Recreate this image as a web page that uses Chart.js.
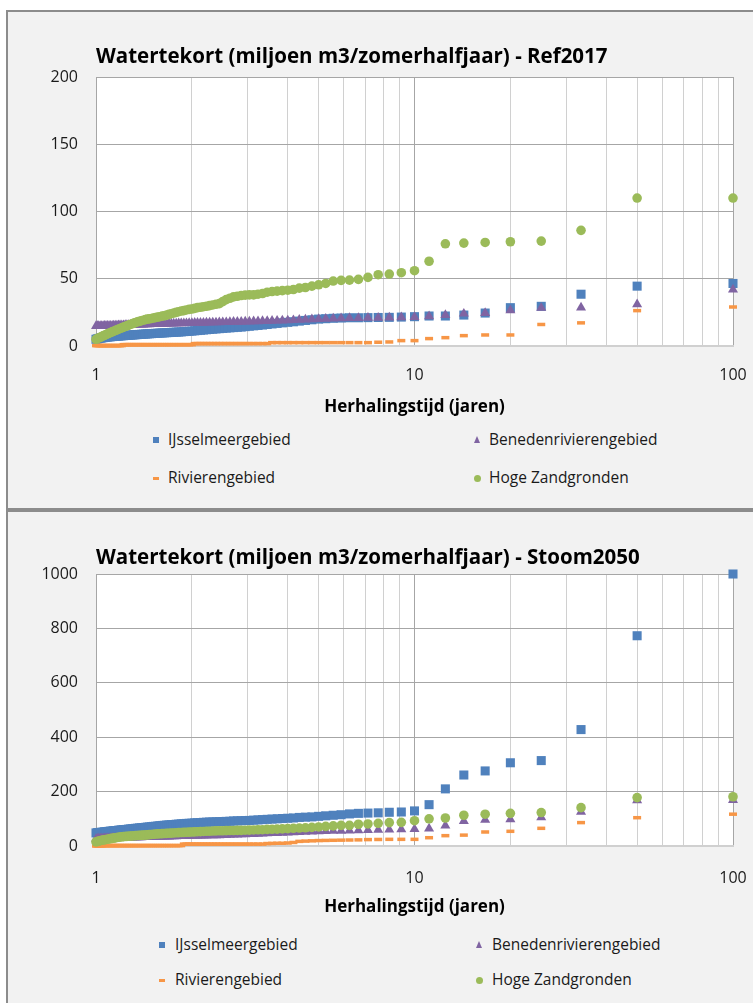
<!DOCTYPE html>
<html><head><meta charset="utf-8">
<script src="https://cdn.jsdelivr.net/npm/chart.js@4.4.1/dist/chart.umd.min.js"></script>
<style>
html,body{margin:0;padding:0;background:#fff;width:753px;height:1003px;overflow:hidden;font-family:"Open Sans",sans-serif;}
.panel{position:absolute;background:#f2f2f2;border:2px solid #8c8c8c;overflow:hidden;}
#p1{left:6px;top:10px;width:800px;height:496px;}
#p2{left:6px;top:510px;width:800px;height:500px;}
.cw{position:absolute;left:0;top:0;width:790px;}
.leg{position:absolute;font-size:15.5px;color:#1a1a1a;white-space:nowrap;line-height:20px;}
.mk{position:absolute;}
</style>
</head><body>
<div class="panel" id="p1"><div class="cw" id="w1" style="height:409px"><canvas id="c1"></canvas></div></div>
<div class="panel" id="p2"><div class="cw" id="w2" style="height:409px"><canvas id="c2"></canvas></div></div>
<script>
// Return period (years), rank 1..100
const herhalingstijd = [100,50,33.333,25,20,16.667,14.286,12.5,11.111,10,
9.091,8.333,7.692,7.143,6.667,6.25,5.882,5.556,5.263,5,
4.762,4.545,4.348,4.167,4,3.846,3.704,3.571,3.448,3.333,
3.226,3.125,3.030,2.941,2.857,2.778,2.703,2.632,2.564,2.5,
2.439,2.381,2.326,2.273,2.222,2.174,2.128,2.083,2.041,2,
1.961,1.923,1.887,1.852,1.818,1.786,1.754,1.724,1.695,1.667,
1.639,1.613,1.587,1.563,1.538,1.515,1.493,1.471,1.449,1.429,
1.408,1.389,1.370,1.351,1.333,1.316,1.299,1.282,1.266,1.25,
1.235,1.220,1.205,1.190,1.176,1.163,1.149,1.136,1.124,1.111,
1.099,1.087,1.075,1.064,1.053,1.042,1.031,1.020,1.010,1];

const seriesNames = ['IJsselmeergebied','Benedenrivierengebied','Rivierengebied','Hoge Zandgronden'];
const seriesColors = ['#4f81bd','#8064a2','#f79646','#9bbb59'];

// Ref2017
const ref_ijssel = [46.5,44.5,38.5,29.5,28.5,24.5,23,22.3,22.3,21.8,
21.5,21.3,21.2,21.1,21,21,20.8,20.6,20.3,20,
19.5,19,18.5,18,17.6,17.2,16.8,16.4,16,15.6,
15.3,15,14.7,14.4,14.1,13.9,13.7,13.5,13.3,13.1,
12.9,12.7,12.5,12.3,12.1,11.9,11.7,11.5,11.3,11.1,
11,10.8,10.7,10.5,10.4,10.3,10.2,10.1,10,9.9,
9.8,9.7,9.6,9.5,9.4,9.3,9.2,9.1,9,8.9,
8.8,8.7,8.6,8.5,8.4,8.3,8.2,8.1,8,7.9,
7.8,7.7,7.6,7.5,7.4,7.3,7.2,7.1,7,6.9,
6.8,6.7,6.5,6.4,6.2,6,5.8,5.6,5.3,5];
const ref_beneden = [42,31,28.5,28.3,26.5,24.5,24,23,22,21.5,
21.3,21.2,21,21,20.8,20.7,20.6,20.4,20.2,20,
19.8,19.6,19.4,19.2,19,18.9,18.8,18.7,18.6,18.5,
18.4,18.3,18.2,18.1,18,17.9,17.9,17.8,17.7,17.7,
17.6,17.5,17.5,17.4,17.4,17.3,17.3,17.2,17.2,17.1,
17,16.95,16.9,16.85,16.8,16.75,16.7,16.65,16.6,16.55,
16.5,16.45,16.4,16.35,16.3,16.25,16.2,16.15,16.1,16.05,
16,15.95,15.9,15.85,15.8,15.75,15.7,15.65,15.6,15.55,
15.5,15.45,15.4,15.35,15.3,15.25,15.2,15.15,15.1,15.05,
15,15,14.95,14.95,14.9,14.9,14.85,14.85,14.8,14.8];
const ref_rivieren = [29,26.3,17.2,16,8.2,8.2,7.7,6.2,5.5,4,
4,3,2.8,2.5,2.5,2.5,2.5,2.5,2.5,2.5,
2.5,2.5,2.5,2.5,2.5,2.5,2.5,2.5,1.8,1.8,
1.8,1.8,1.8,1.8,1.8,1.8,1.8,1.8,1.8,1.8,
1.8,1.8,1.8,1.8,1.8,1.8,1.8,1.8,1.8,1,
1,1,1,1,1,1,1,1,1,1,
1,1,1,1,1,1,1,1,1,1,
1,1,1,1,1,1,1,1,1,1,
1,1,0.3,0.3,0.3,0.3,0.3,0.3,0.3,0.3,
0.3,0.3,0.3,0.3,0.3,0.3,0.3,0.3,0.3,0.3];
const ref_hoge = [110,110,86,78,77.5,77,76.5,76,63,56,
54.5,53.5,53,51,49.5,49,48.8,48.3,46.5,45.5,
44.5,43.5,43,42,41.5,41.2,40.8,40.5,40,39,
38.5,38,38,37.8,37.5,37,36.5,35.5,34.5,33,
31.5,31,30.5,30,29.5,29.2,28.8,28.5,28,27.5,
27.2,26.8,26.3,26,25.5,25,24.5,24,23.5,23,
22.5,22.2,21.8,21.5,21.2,20.8,20.5,20.2,20,19.6,
19.2,18.8,18.4,18,17.5,17,16.5,16,15.5,15,
14.5,14,13.5,13,12.5,12,11.5,11,10.5,10,
9.5,9,8.5,8,7.5,7,6.5,6,5.5,5];

// Stoom2050
const st_ijssel = [1000,773,428,314,306,276,261,210,152,129,
125,124,122,121,120,118,115,113,111,109,
107,106,105,103,102,101,100,99,98,97,
96,95,94,93.5,93,92.5,92,91,90.5,90,
89.5,89,88.5,88,87.5,87,86,85.5,85,84,
83.5,83,82,81.5,80.5,80,79,78.5,77.5,77,
76,75.5,74.5,73.5,72.5,72,71,70,69.5,68.5,
68,67,66.5,65.5,65,64,63.5,62.5,62,61,
60.5,60,59.5,58.5,58,57,56.5,56,55,54.5,
54,53,52.5,52,51,50.5,50,49.5,49,48];
const st_beneden = [169,168,126,105,98,96,92,75,64,62,
61,60,59.5,58,57.5,57,56,55.6,55,54,
53,52,51,50,49,48,47.5,47,46.5,46,
44.5,44,43.5,43,42.5,42,41.5,41,40.5,40,
39.6,39.3,39,38.7,38.4,38.1,37.8,37.5,37.2,37,
36.8,36.6,36.4,36.2,36,35.7,35.4,35.1,34.8,34.6,
34.4,34.2,34,33.8,33.6,33.4,33.2,33,32.8,32.6,
32.4,32.2,32,31.8,31.6,31.4,31.2,31,30.8,30.6,
30.4,30.2,30,29.8,29.6,29.4,29.2,29,28.8,28.6,
28.4,28.2,28,27.8,27.6,27.4,27.2,27,26.5,26];
const st_rivieren = [117,104,86,65,54,51.5,40,38,30.5,24.5,
24.5,24.5,24,23.5,22.5,22,21.5,21,20.5,20,
19,18,17,13,11,10,10,9.5,9,7,
7,7,7,7,7,7,7,7,7,7,
7,7,7,7,7,7,7,7,7,7,
7,7,7,1.5,1.5,1.5,1.5,1.5,1.5,1.5,
1.5,1.5,1.5,1.5,1.5,1.5,1.5,1.5,1.5,1.5,
1.5,1.5,1.5,1.5,1.5,1.5,1.5,1.5,1.5,1.5,
1.5,1.5,1.5,1.5,1.5,1.5,1.5,1.5,1.5,1.5,
1.5,1.5,1.5,1.5,1.5,0,0,0,0,0];
const st_hoge = [181,178,141,123,120,117,113,103,100,93,
87,86,83.5,81,80,76,76,74,72,70,
68.5,67,66,65,64,63,62,61.5,61,60,
59.5,59,58.5,58,57.5,57.5,57,57,56.5,56,
56,55.5,55,54.5,54,53.5,53,52.5,52,51.5,
51,50.5,50,49.5,49,48.5,48,47.5,47,46.5,
46,45.5,45,44.5,44,43,42.5,42,41,40.5,
40,39.5,39,38.5,38,37.5,37,36.5,36,35.5,
35,34.5,34,33,32,31,30,29,28,27,
26,25,24,23,22,21,19.5,18,16.5,15];

const xGridValues = [1,2,3,4,5,6,7,8,9,10,20,30,40,50,60,70,80,90,100];
const xLabelValues = [1,10,100];
const yTicksRef = [0,50,100,150,200];
const yTicksStoom = [0,200,400,600,800,1000];

const FONT = '"Open Sans", sans-serif';
const TXT = '#1a1a1a';

const plotBg = {id:'plotBg', beforeDraw(c){const {ctx, chartArea:a} = c; ctx.save(); ctx.fillStyle = '#ffffff'; ctx.fillRect(a.left, a.top, a.width, a.height); ctx.restore();}};

const styles = [
  {pointStyle:'rect', pointRadius:6.4, pointBorderWidth:0},
  {pointStyle:'triangle', pointRadius:5.8, pointBorderWidth:0},
  {pointStyle:'line', pointRadius:4, pointBorderWidth:3.5},
  {pointStyle:'circle', pointRadius:4.8, pointBorderWidth:0}
];

function makeChart(id, title, series, yTicks, L) {
  const datasets = series.map((vals, i) => ({
    label: seriesNames[i],
    data: herhalingstijd.map((t, k) => ({x: t, y: vals[k]})),
    backgroundColor: seriesColors[i],
    borderColor: seriesColors[i],
    pointStyle: styles[i].pointStyle,
    pointRadius: styles[i].pointRadius,
    pointHoverRadius: styles[i].pointRadius,
    pointBorderWidth: styles[i].pointBorderWidth,
    showLine: false,
    clip: false,
    order: 3 - i
  }));
  return new Chart(document.getElementById(id), {
    type: 'scatter',
    data: {datasets},
    plugins: [plotBg],
    options: {
      responsive: true, maintainAspectRatio: false, animation: false,
      layout: {padding: {left: 0, right: 65, top: 0, bottom: 0}},
      plugins: {
        legend: {display: false},
        tooltip: {enabled: false},
        title: {display: true, text: title, align: 'start', fullSize: false, color: '#000',
          font: {family: FONT, size: 20.5, weight: 'bold', lineHeight: 1.2},
          padding: L.titlePad}
      },
      scales: {
        x: {
          type: 'logarithmic', min: 1, max: 100,
          afterBuildTicks: s => { s.ticks = xGridValues.map(v => ({value: v, major: xLabelValues.includes(v)})); },
          afterFit: s => { s.height = L.xAxisH; },
          ticks: {autoSkip: false, maxRotation: 0, padding: L.xTickPad, color: TXT,
            font: {family: FONT, size: 16},
            callback: v => xLabelValues.includes(v) ? String(v) : ''},
          grid: {drawTicks: false, color: c => (c.tick && xLabelValues.includes(c.tick.value)) ? '#a6a6a6' : '#d0d0d0', lineWidth: 1},
          border: {display: true, color: '#d0d0d0', width: 2},
          title: {display: true, text: 'Herhalingstijd (jaren)', color: '#000',
            font: {family: FONT, size: 17, weight: 'bold', lineHeight: 1.2}, padding: {top: 0, bottom: 4}}
        },
        y: {
          min: 0, max: yTicks[yTicks.length - 1],
          afterBuildTicks: s => { s.ticks = yTicks.map(v => ({value: v})); },
          afterFit: s => { s.width = 88; },
          ticks: {padding: 18, color: TXT, font: {family: FONT, size: 16}, callback: v => String(v)},
          grid: {drawTicks: false, color: '#a6a6a6', lineWidth: 1},
          border: {display: true, color: '#a6a6a6', width: 1}
        }
      }
    }
  });
}

makeChart('c1', 'Watertekort (miljoen m3/zomerhalfjaar) - Ref2017',
  [ref_ijssel, ref_beneden, ref_rivieren, ref_hoge], yTicksRef,
  {titlePad: {top: 32.7, bottom: 7.7}, xTickPad: 19.4, xAxisH: 75});
makeChart('c2', 'Watertekort (miljoen m3/zomerhalfjaar) - Stoom2050',
  [st_ijssel, st_beneden, st_rivieren, st_hoge], yTicksStoom,
  {titlePad: {top: 33.7, bottom: 3.7}, xTickPad: 22.4, xAxisH: 75});

// Legends (HTML, built from series names/colours)
function markerHTML(i) {
  const c = seriesColors[i];
  if (i === 0) return `<div class="mk" style="left:-3px;top:-3px;width:6px;height:6px;background:${c}"></div>`;
  if (i === 1) return `<div class="mk" style="left:-3.5px;top:-4px;width:0;height:0;border-left:3.5px solid transparent;border-right:3.5px solid transparent;border-bottom:7px solid ${c}"></div>`;
  if (i === 2) return `<div class="mk" style="left:-3px;top:-1px;width:6px;height:2.5px;background:${c}"></div>`;
  return `<div class="mk" style="left:-3.5px;top:-3.5px;width:7px;height:7px;border-radius:50%;background:${c}"></div>`;
}
function buildLegend(panelId, originX, originY, cols, rows) {
  const p = document.getElementById(panelId);
  const pos = [[0,0],[1,0],[0,1],[1,1]];
  seriesNames.forEach((name, i) => {
    const [ci, ri] = pos[i];
    const mk = document.createElement('div');
    mk.style.cssText = `position:absolute;left:${cols[ci].mark - originX}px;top:${rows[ri] - originY}px;width:0;height:0;`;
    mk.innerHTML = markerHTML(i);
    p.appendChild(mk);
    const t = document.createElement('div');
    t.className = 'leg';
    t.textContent = name;
    t.style.left = (cols[ci].text - originX) + 'px';
    t.style.top = (rows[ri] - originY - 11) + 'px';
    p.appendChild(t);
  });
}
buildLegend('p1', 8, 12, [{mark:156, text:168},{mark:477, text:489}], [440, 478]);
buildLegend('p2', 8, 512, [{mark:162, text:175},{mark:479, text:492}], [945, 980]);
</script>
</body></html>
